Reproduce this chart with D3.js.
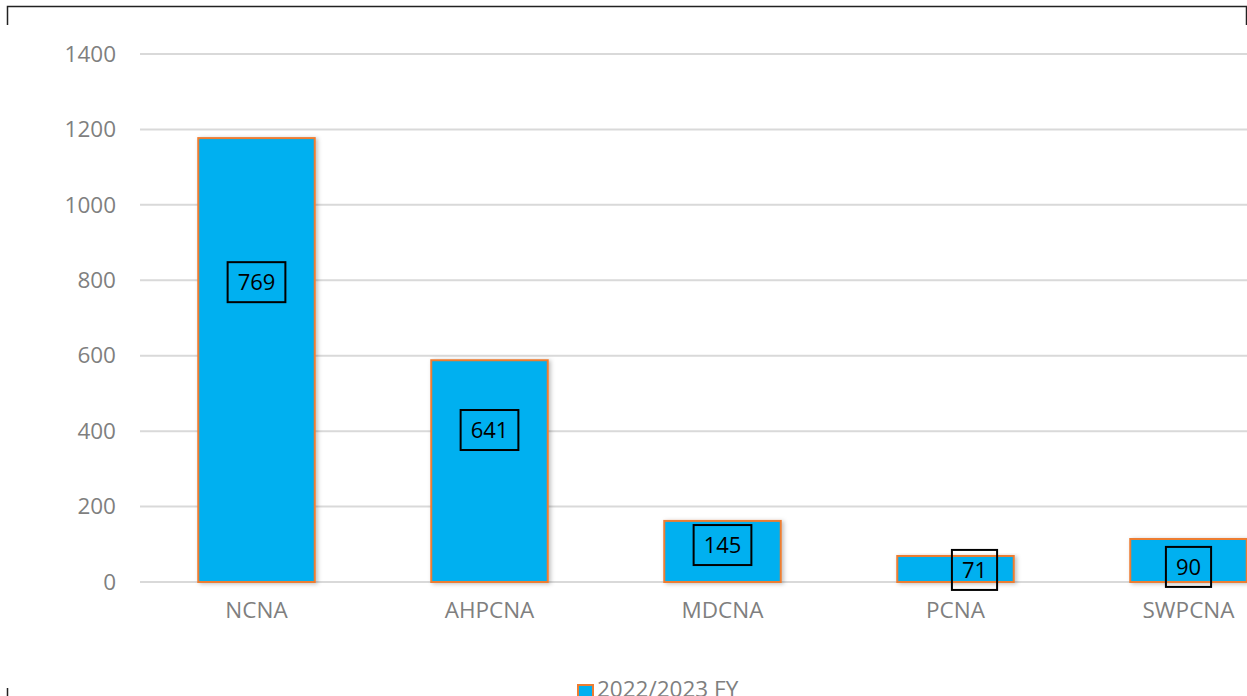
<!DOCTYPE html>
<html>
<head>
<meta charset="utf-8">
<script src="https://cdn.jsdelivr.net/npm/d3@7"></script>
<style>
  body { margin: 0; background: #fff; overflow: hidden; }
  text { font-family: "Open Sans", sans-serif; }
</style>
</head>
<body>
<script>
// data
var categories = ['NCNA', 'AHPCNA', 'MDCNA', 'PCNA', 'SWPCNA']
var barValues = [1177, 588, 162, 69, 114]
var labelValues = [769, 641, 145, 71, 90]
var labelAt = [795, 403, 98, 32, 40]   // where each box sits, in axis units
var yTicks = [0, 200, 400, 600, 800, 1000, 1200, 1400]
var seriesName = '2022/2023 FY'

function main(){
    var width = 1247;
    var height = 696;

    let svg = d3.select('body')
        .append('svg')
        .attr('width', width)
        .attr('height', height)

    let defs = svg.append('defs')
    let shadow = defs.append('filter').attr('id', 'shadow')
        .attr('x', '-10%').attr('y', '-10%').attr('width', '130%').attr('height', '130%')
    shadow.append('feDropShadow')
        .attr('dx', 2).attr('dy', 1).attr('stdDeviation', 2)
        .attr('flood-color', '#000').attr('flood-opacity', 0.25)

    // outer frame bits
    svg.append('path')
        .attr('d', 'M7.5,25 V6.5 H1246.5 V25')
        .attr('fill', 'none').attr('stroke', '#222').attr('stroke-width', 1.5)
    svg.append('line')
        .attr('x1', 7.5).attr('x2', 7.5).attr('y1', 688).attr('y2', 696)
        .attr('stroke', '#222').attr('stroke-width', 1.5)

    let xScale = d3.scaleBand()
        .domain(categories)
        .range([140, 1305])
        .paddingInner(0.5)
        .paddingOuter(0.25)

    let yScale = d3.scaleLinear()
        .domain([0, 1400])
        .range([582, 54])

    // gridlines
    svg.append('g')
        .selectAll('line')
        .data(yTicks)
        .enter()
        .append('line')
        .attr('x1', 140)
        .attr('x2', width)
        .attr('y1', d => yScale(d))
        .attr('y2', d => yScale(d))
        .attr('stroke', '#d9d9d9')
        .attr('stroke-width', 2)

    let yAxis = svg.append('g')
        .attr('transform', 'translate(140,0)')
        .call(d3.axisLeft(yScale).tickValues(yTicks).tickFormat(d3.format('d')).tickSize(0).tickPadding(24))
    yAxis.select('.domain').remove()
    yAxis.selectAll('text')
        .attr('font-size', 22.5)
        .attr('fill', '#7f7f7f')
        .attr('font-family', 'Open Sans, sans-serif')

    let xAxis = svg.append('g')
        .attr('transform', 'translate(0,582)')
        .call(d3.axisBottom(xScale).tickSize(0).tickPadding(20))
    xAxis.select('.domain').remove()
    xAxis.selectAll('text')
        .attr('font-size', 22.5)
        .attr('fill', '#7f7f7f')
        .attr('font-family', 'Open Sans, sans-serif')

    // bars
    svg.append('g')
        .selectAll('rect')
        .data(barValues)
        .enter()
        .append('rect')
        .attr('x', (d, i) => xScale(categories[i]))
        .attr('y', d => yScale(d))
        .attr('width', xScale.bandwidth())
        .attr('height', d => yScale(0) - yScale(d))
        .attr('fill', '#00b0f0')
        .attr('stroke', '#ed7d31')
        .attr('stroke-width', 2)
        .attr('filter', 'url(#shadow)')

    // boxed data labels
    let labels = svg.append('g')
        .selectAll('g')
        .data(labelValues)
        .enter()
        .append('g')
        .attr('transform', (d, i) => 'translate(' + (xScale(categories[i]) + xScale.bandwidth() / 2 + (i == 3 ? 19 : 0)) + ',' + yScale(labelAt[i]) + ')')

    labels.append('text')
        .attr('text-anchor', 'middle')
        .attr('dy', '0.35em')
        .attr('font-size', 22)
        .attr('fill', '#000')
        .text(d => d)

    labels.each(function(){
        let g = d3.select(this)
        let bb = g.select('text').node().getBBox()
        g.insert('rect', 'text')
            .attr('x', bb.x - 10)
            .attr('y', -20)
            .attr('width', bb.width + 20)
            .attr('height', 40)
            .attr('fill', 'none')
            .attr('stroke', '#000')
            .attr('stroke-width', 2)
    })

    // legend
    let legend = svg.append('g')
    legend.append('rect')
        .attr('x', 578).attr('y', 685)
        .attr('width', 15).attr('height', 15)
        .attr('fill', '#00b0f0')
        .attr('stroke', '#ed7d31')
        .attr('stroke-width', 2)
    legend.append('text')
        .attr('x', 597).attr('y', 697)
        .attr('font-size', 22.5)
        .attr('fill', '#7f7f7f')
        .text(seriesName)
}

main()
</script>
</body>
</html>
